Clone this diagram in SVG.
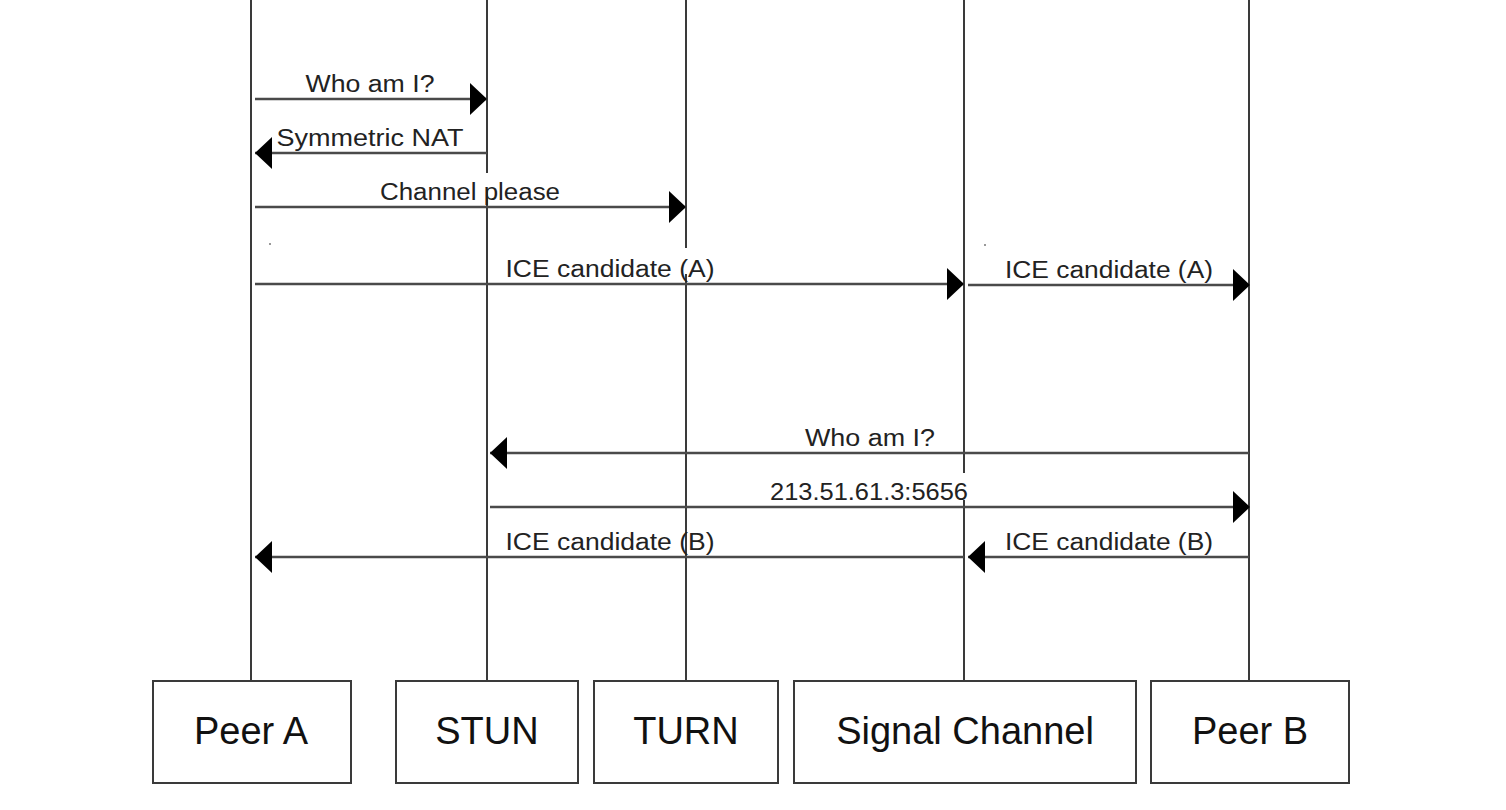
<svg xmlns="http://www.w3.org/2000/svg" width="1506" height="810" viewBox="0 0 1506 810">
<style>
.life{stroke:#3a3a3a;stroke-width:2;fill:none}
.msg{stroke:#4a4a4a;stroke-width:2.5;fill:none;marker-end:url(#arr)}
.box{fill:#fff;stroke:#3a3a3a;stroke-width:2}
.lbl{font-family:"Liberation Sans",Arial,sans-serif;font-size:23px;fill:#222;text-anchor:middle}
.name{font-family:"Liberation Sans",Arial,sans-serif;font-size:38px;fill:#111;text-anchor:middle}
</style>
<defs>
<marker id="arr" markerUnits="userSpaceOnUse" markerWidth="18" markerHeight="34" refX="17" refY="16" orient="auto">
<path d="M0,0 L17,16 L0,32 z" fill="#000"/>
</marker>
</defs>
<rect width="1506" height="810" fill="#fff"/>
<g id="lifelines">
<path class="life" d="M251,0 V681"/>
<path class="life" d="M487,0 V173 M487,190 V681"/>
<path class="life" d="M686,0 V248 M686,274 V681"/>
<path class="life" d="M964,0 V473 M964,500 V681"/>
<path class="life" d="M1249,0 V681"/>
</g>
<g id="connectors">
<line class="msg" x1="255" y1="99" x2="487" y2="99"/>
<text class="lbl" x="370" y="92" textLength="129" lengthAdjust="spacingAndGlyphs">Who am I?</text>
<line class="msg" x1="487" y1="153" x2="255" y2="153"/>
<text class="lbl" x="370" y="146" textLength="187" lengthAdjust="spacingAndGlyphs">Symmetric NAT</text>
<line class="msg" x1="255" y1="207" x2="686" y2="207"/>
<text class="lbl" x="470" y="200" textLength="180" lengthAdjust="spacingAndGlyphs">Channel please</text>
<line class="msg" x1="255" y1="284" x2="964" y2="284"/>
<text class="lbl" x="610" y="277" textLength="209" lengthAdjust="spacingAndGlyphs">ICE candidate (A)</text>
<line class="msg" x1="968" y1="285" x2="1250" y2="285"/>
<text class="lbl" x="1109" y="278" textLength="208" lengthAdjust="spacingAndGlyphs">ICE candidate (A)</text>
<line class="msg" x1="1249" y1="453" x2="490" y2="453"/>
<text class="lbl" x="870" y="446" textLength="130" lengthAdjust="spacingAndGlyphs">Who am I?</text>
<line class="msg" x1="490" y1="507" x2="1250" y2="507"/>
<text class="lbl" x="869" y="500" textLength="198" lengthAdjust="spacingAndGlyphs">213.51.61.3:5656</text>
<line class="msg" x1="964" y1="557" x2="255" y2="557"/>
<text class="lbl" x="610" y="550" textLength="209" lengthAdjust="spacingAndGlyphs">ICE candidate (B)</text>
<line class="msg" x1="1249" y1="557" x2="968" y2="557"/>
<text class="lbl" x="1109" y="550" textLength="208" lengthAdjust="spacingAndGlyphs">ICE candidate (B)</text>
<circle cx="270" cy="244" r="1" fill="#777"/>
<circle cx="985" cy="245" r="1" fill="#777"/>
</g>
<g id="peerA"><rect class="box" x="153" y="681" width="198" height="102"/><text class="name" x="251" y="744">Peer A</text></g>
<g id="stun"><rect class="box" x="396" y="681" width="182" height="102"/><text class="name" x="487" y="744">STUN</text></g>
<g id="turn"><rect class="box" x="594" y="681" width="184" height="102"/><text class="name" x="686" y="744">TURN</text></g>
<g id="signal"><rect class="box" x="794" y="681" width="342" height="102"/><text class="name" x="965" y="744">Signal Channel</text></g>
<g id="peerB"><rect class="box" x="1151" y="681" width="198" height="102"/><text class="name" x="1250" y="744">Peer B</text></g>
</svg>
